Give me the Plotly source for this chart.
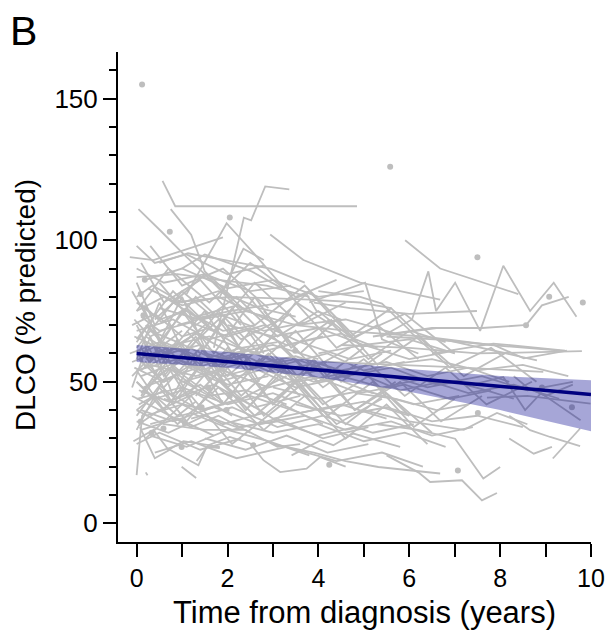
import plotly.graph_objects as go

# ---- individual patient trajectories (years from diagnosis, DLCO % predicted) ----
visit_years = [
    [0.57, 0.85, 4.85],
    [1.7, 2.13, 2.36, 2.52, 2.83, 3.36],
    [0.04, 0.55, 1.1, 1.7, 2.4],
    [0.75, 1.2, 1.5, 2.1],
    [-0.15, 0.37, 1.9],
    [1.1, 1.98, 2.6, 3.52, 4.3],
    [2.94, 3.67, 4.92, 6.68],
    [5.91, 6.68, 8.4],
    [5.4, 6.06, 6.42, 6.59, 7.01, 7.56, 8.07, 8.66, 9.18, 9.68],
    [8.57, 8.92, 9.51],
    [4.0, 4.92, 5.4, 6.02, 6.8],
    [3.8, 5.03, 5.4, 6.2],
    [5.2, 6.5, 7.6, 8.52],
    [3.5, 4.85, 6.3, 7.8, 9.32],
    [3.9, 4.7, 6.0, 7.49],
    [5.5, 6.83, 8.81],
    [6.5, 7.85, 9.43],
    [4.2, 5.8, 7.2, 8.95],
    [7.71, 8.6, 9.99],
    [7.4, 8.07, 8.55, 8.9, 9.77],
    [8.3, 8.6, 9.0, 9.6],
    [6.68, 7.86, 8.52, 9.47],
    [4.5, 6.0, 7.5, 9.1, 9.8],
    [5.5, 6.2, 6.46, 7.16, 7.6, 7.93],
    [5.3, 6.2, 7.01, 7.63, 8.0],
    [8.2, 8.74, 9.14],
    [9.16, 9.76],
    [8.2, 8.66, 9.1, 9.76],
    [5.0, 6.0, 7.2, 7.93, 8.6],
    [4.8, 5.7, 6.6, 7.3],
    [5.6, 6.4, 7.0, 7.7, 8.3],
    [1.32, 1.58, 2.05, 2.5, 2.79, 3.16, 3.74, 4.04, 4.6],
    [3.0, 3.9, 4.6, 5.32, 6.68],
    [0.0, 0.03, 0.08, 0.12, 0.5],
    [0.99, 1.31],
    [0.2, 0.24],
    [0.07, 0.4, 0.73, 1.36, 1.54, 1.83],
    [-0.07, 0.37, 0.7, 1.03, 1.83],
    [0.0, 0.6, 1.5, 2.4, 3.1, 3.6],
    [3.41, 4.04, 4.33, 4.77, 5.14, 5.8],
    [0.0, 0.9, 1.8, 2.86, 3.8],
    [0.5, 1.13, 2.94, 3.7],
    [1.0, 1.5, 2.53, 3.2],
    [1.83, 2.35, 2.8],
    [0.8, 2.05, 3.82, 4.92, 5.6],
    [1.2, 2.05, 3.2, 3.74, 3.96, 4.5],
    [0.0, 0.5, 1.1, 1.9, 2.6],
    [-0.1, 0.4, 1.0, 1.6, 2.3, 3.1],
    [0.1, 0.7, 1.4, 2.2],
    [0.0, 0.3, 0.9, 1.7, 2.5, 3.4, 4.2],
    [0.2, 0.8, 1.5],
    [-0.05, 0.6, 1.2, 2.0, 2.9],
    [0.1, 0.9, 1.8, 2.7, 3.5, 4.4, 5.2],
    [0.0, 0.4, 1.0],
    [0.15, 0.8, 1.6, 2.4, 3.3],
    [-0.1, 0.5, 1.3, 2.1],
    [0.05, 0.6, 1.4, 2.3, 3.0, 3.9],
    [0.2, 1.0, 1.9, 2.8],
    [0.0, 0.7, 1.5, 2.2, 3.1, 4.0, 4.8],
    [0.1, 0.9, 1.7],
    [0.3, 1.1, 2.0, 2.9, 3.8],
    [0.0, 0.6, 1.3, 2.2, 3.0],
    [0.1, 0.5, 1.2, 2.0, 2.8, 3.6, 4.5, 5.3],
    [0.0, 0.8, 1.6, 2.5, 3.3, 4.1],
    [0.25, 1.0, 1.8, 2.6],
    [0.0, 0.35, 1.0, 1.8, 2.7, 3.5],
    [0.1, 0.6, 1.5, 2.3, 3.2, 4.2, 5.0, 5.9],
    [-0.1, 0.5, 1.4, 2.4, 3.4, 4.3],
    [0.0, 0.9, 1.9, 2.9, 3.9, 4.9, 5.8, 6.7],
    [0.2, 0.7, 1.3, 2.1, 3.0, 4.0],
    [0.05, 0.7, 1.7, 2.6, 3.6],
    [0.0, 1.0, 2.0, 3.0, 4.0, 5.0, 6.0],
    [0.1, 0.8, 1.7, 2.7, 3.7, 4.6, 5.6, 6.5, 7.4],
    [0.3, 1.2, 2.1, 3.1, 4.1, 5.1],
    [0.0, 0.5, 1.4, 2.3],
    [0.4, 1.2, 2.2, 3.3, 4.4, 5.4, 6.3],
    [0.0, 0.6, 1.5, 2.5, 3.4],
    [0.2, 1.0, 2.0, 3.0, 4.0, 5.0],
    [0.0, 0.4, 1.1, 2.0, 2.8],
    [0.5, 1.4, 2.4, 3.5, 4.6, 5.7, 6.6],
    [0.8, 1.6, 2.6, 3.6, 4.7, 5.6],
    [1.0, 1.9, 2.9, 3.9, 4.9, 5.9, 6.9, 7.8],
    [0.6, 1.5, 2.5, 3.6, 4.5, 5.5],
    [1.2, 2.1, 3.1, 4.1, 5.2, 6.1],
    [0.9, 1.8, 2.8, 3.7],
    [1.5, 2.5, 3.5, 4.5, 5.5, 6.4, 7.3, 8.2],
    [2.0, 3.0, 4.0, 5.0, 6.0, 7.0],
    [2.5, 3.5, 4.6, 5.6, 6.6, 7.6, 8.6, 9.6],
    [3.0, 4.0, 5.0, 6.1, 7.1],
    [3.5, 4.5, 5.5, 6.5, 7.5, 8.5],
    [4.0, 5.0, 6.0, 7.0],
    [4.5, 5.4, 6.3, 7.3, 8.3, 9.3],
    [1.5, 2.4, 3.3, 4.2, 5.1],
    [2.0, 3.0, 4.0, 5.0, 5.9, 6.8],
    [0.3, 1.3, 2.4, 3.5, 4.6],
    [-0.15, 0.5, 1.5, 2.6],
    [0.1, 0.3, 0.9, 1.5],
    [5.5, 6.5, 7.5, 8.5, 9.5],
    [-0.05, 0.3, 0.8],
    [0.0, 0.25, 0.7, 1.2],
    [0.05, 0.45, 0.95],
    [-0.1, 0.2, 0.6, 1.1],
    [0.1, 0.35, 0.85, 1.4, 1.9],
    [0.0, 0.4, 0.9, 1.3],
    [-0.05, 0.5, 1.0],
    [0.15, 0.55, 1.1, 1.6],
    [0.0, 0.2, 0.65],
    [0.05, 0.5, 1.2, 1.8, 2.5],
    [0.3, 0.7, 1.3],
    [0.1, 0.5, 1.0, 1.7, 2.2],
    [0.0, 0.6, 1.3, 2.0, 2.9, 3.8],
    [0.1, 0.9, 1.6, 2.5, 3.3],
    [-0.1, 0.7, 1.5, 2.2, 3.0, 3.9, 4.7],
    [0.2, 1.0, 1.7, 2.6, 3.4, 4.3],
    [0.0, 0.8, 1.9, 2.7, 3.6],
    [0.3, 1.1, 2.0, 3.0, 3.9, 4.8, 5.7],
    [0.1, 0.6, 1.4, 2.3],
    [0.5, 1.3, 2.2, 3.1, 4.0, 5.0],
    [0.0, 0.9, 1.8, 2.8, 3.7, 4.6, 5.5, 6.4],
    [0.2, 1.2, 2.1, 3.2, 4.1],
    [1.0, 1.8, 2.7, 3.5, 4.4, 5.3, 6.2],
    [0.4, 1.5, 2.6, 3.7, 4.8, 5.9, 7.0],
    [0.0, 0.5, 1.2, 1.9, 2.7],
    [0.1, 0.8, 1.5, 2.4, 3.2, 4.1],
    [1.3, 2.2, 3.0, 3.9, 4.8, 5.8, 6.7, 7.6],
    [2.2, 3.0, 3.8, 4.7, 5.6, 6.5],
    [2.8, 3.6, 4.4, 5.3, 6.2, 7.2, 8.1],
    [0.0, 0.7, 1.6, 2.5, 3.5, 4.4],
    [0.6, 1.4, 2.3, 3.2, 4.1, 5.1, 6.0],
    [0.0, 0.4, 1.0, 1.6],
    [-0.1, 0.3, 0.8, 1.3, 1.9],
    [0.0, 0.5, 1.1, 1.8],
    [0.2, 0.9, 1.8, 2.6, 3.5, 4.5, 5.4],
    [3.2, 4.1, 5.0, 5.9, 6.8, 7.7, 8.7],
    [1.7, 2.6, 3.5, 4.4, 5.4],
    [0.3, 1.0, 1.9, 2.9],
    [0.0, 0.8, 1.7, 2.6, 3.6, 4.6],
    [0.1, 0.7, 1.3, 2.0, 2.8, 3.7, 4.6, 5.5, 6.5],
    [1.1, 2.0, 3.0, 4.0, 5.0],
    [4.2, 5.1, 6.0, 6.9, 7.8, 8.8],
    [0.0, 0.6, 1.4, 2.3, 3.3],
    [0.4, 1.3, 2.3, 3.4],
    [2.4, 3.3, 4.2, 5.2, 6.1, 7.0],
    [0.1, 0.5, 1.0, 1.5, 2.1, 2.8],
]

dlco_pct = [
    [121, 112, 112],
    [62, 92, 108, 107, 119, 118],
    [111, 103, 94, 85, 75],
    [111, 102, 89, 80],
    [94, 93, 101],
    [81, 106, 95, 78, 70],
    [102, 93, 85, 79],
    [100, 90, 81],
    [66, 72, 89, 75, 85, 68, 91, 75, 85, 73],
    [70, 77, 80],
    [82, 80, 77.6, 68, 64],
    [78, 85, 65, 60],
    [66, 69, 69, 70],
    [70, 67.6, 66, 63, 61],
    [78, 76, 74, 75],
    [66, 64.7, 57.6],
    [60, 63.5, 61],
    [57, 56, 55, 53.5],
    [44.4, 45, 42.3],
    [49, 51.7, 40, 46, 36.4],
    [52, 48, 45, 49],
    [64.7, 63, 58.3, 61],
    [63, 62, 60, 60.5, 60.8],
    [24, 18, 14.6, 15.2, 8.1, 10.7],
    [35, 33, 29.9, 15.8, 19.9],
    [30, 24.6, 27],
    [22.9, 33.5],
    [38, 32.9, 30.5, 27.3],
    [40, 36, 33, 39, 35],
    [46, 44, 40, 42],
    [52, 48, 50, 47, 44],
    [22, 27.6, 30.5, 28.2, 22.3, 18.1, 19.3, 23.4, 20],
    [28, 25, 22, 19.9, 17.6],
    [17, 22, 29, 38, 45],
    [20, 16],
    [18, 17],
    [34, 23, 26, 20.5, 27, 26.6],
    [29, 33, 26, 29, 27],
    [40, 35, 33, 33, 27, 28],
    [24, 29.3, 27.6, 31.7, 30, 27],
    [87, 88, 86, 84, 80],
    [92, 95.4, 90, 85],
    [90, 95, 89, 83],
    [80, 97, 93],
    [78, 80, 79, 78, 76],
    [72, 75, 78, 81, 75, 72],
    [78, 72, 75, 68, 70],
    [70, 74, 66, 69, 62, 64],
    [65, 60, 63, 57],
    [62, 68, 64, 58, 61, 55, 57],
    [58, 63, 55],
    [55, 50, 56, 49, 52],
    [52, 57, 50, 54, 48, 51, 46],
    [50, 44, 47],
    [48, 52, 45, 47, 42],
    [45, 40, 46, 38],
    [42, 47, 40, 44, 37, 40],
    [38, 42, 35, 39],
    [36, 32, 38, 34, 36, 31, 34],
    [33, 37, 31],
    [31, 27, 33, 29, 24],
    [75, 80, 73, 77, 71],
    [73, 68, 71, 66, 70, 64, 67, 62],
    [68, 72, 65, 69, 63, 66],
    [83, 77, 80, 74],
    [80, 84, 78, 82, 76, 73],
    [60, 64, 58, 62, 56, 60, 54, 57],
    [57, 61, 54, 59, 52, 55],
    [54, 58, 52, 56, 50, 53, 47, 50],
    [66, 61, 67, 60, 63, 58],
    [47, 43, 49, 41, 45],
    [44, 48, 42, 46, 40, 43, 38],
    [40, 36, 41, 35, 38, 33, 36, 31, 34],
    [35, 39, 33, 37, 30, 34],
    [28, 32, 26, 30],
    [25, 29, 23, 27, 22, 25, 20],
    [90, 85, 88, 82, 84],
    [86, 90, 83, 86, 80, 82],
    [98, 92, 95, 88, 91],
    [76, 72, 75, 70, 72, 67, 69],
    [63, 66, 60, 64, 58, 61],
    [50, 54, 48, 52, 46, 49, 44, 47],
    [44, 40, 45, 39, 42, 37],
    [37, 41, 34, 38, 32, 35],
    [70, 74, 68, 71],
    [60, 56, 59, 54, 57, 52, 55, 50],
    [70, 66, 69, 63, 65, 60],
    [55, 58, 52, 55, 49, 52, 47, 50],
    [48, 44, 47, 42, 45],
    [42, 38, 41, 36, 38, 34],
    [60, 63, 58, 61],
    [52, 48, 51, 46, 49, 44],
    [30, 26, 31, 25, 28],
    [36, 32, 35, 29, 32, 27],
    [56, 52, 57, 50, 53],
    [60, 64, 57, 60],
    [67, 58, 62, 70],
    [56, 58, 54, 56, 52],
    [72, 66, 70],
    [64, 70, 61, 66],
    [58, 52, 57],
    [52, 57, 50, 54],
    [46, 51, 44, 49, 43],
    [40, 45, 38, 43],
    [66, 62, 68],
    [77, 71, 76, 69],
    [61, 55, 59],
    [35, 40, 34, 38, 32],
    [49, 55, 48],
    [54, 60, 53, 57, 51],
    [70, 52, 66, 48, 60, 45],
    [45, 65, 50, 68, 55],
    [82, 60, 75, 58, 70, 55, 62],
    [55, 75, 60, 80, 62, 72],
    [38, 55, 42, 58, 45],
    [65, 45, 62, 42, 58, 40, 50],
    [92, 78, 86, 70],
    [85, 70, 80, 66, 75, 62],
    [50, 35, 48, 33, 45, 30, 42, 28],
    [30, 45, 28, 42, 35],
    [58, 75, 60, 78, 62, 70, 58],
    [72, 88, 70, 84, 66, 74, 60],
    [58, 78, 55, 72, 50],
    [62, 42, 58, 40, 55, 38],
    [45, 60, 42, 56, 40, 50, 36, 45],
    [85, 70, 82, 66, 76, 62],
    [75, 60, 72, 56, 66, 52, 60],
    [75, 90, 78, 92, 80, 86],
    [48, 62, 45, 58, 42, 52, 38],
    [85, 70, 82, 74],
    [48, 66, 45, 60, 42],
    [33, 48, 36, 50],
    [70, 58, 72, 55, 68, 50, 60],
    [62, 48, 58, 45, 55, 42, 50],
    [52, 38, 50, 35, 44],
    [98, 84, 90, 76],
    [65, 82, 68, 85, 70, 78],
    [44, 58, 40, 55, 38, 50, 35, 46, 32],
    [68, 52, 66, 50, 62],
    [72, 58, 68, 55, 62, 50],
    [54, 40, 56, 44, 52],
    [62, 80, 65, 74],
    [40, 55, 38, 50, 34, 44],
    [78, 64, 80, 62, 76, 60],
]

# patients with a single measurement (drawn as points)
single_years = [0.12, 5.58, 7.5, 2.05, 0.73, 9.08, 9.82, 8.57, 0.18, 0.09, 7.51, 8.92, 9.58,
                4.24, 7.07, 0.09, 0.33, 0.59, 0.99, 1.06, 1.43, 1.58, 2.05, 2.57, 0.15, 3.49, 1.98]
single_dlco = [155, 126, 94, 108, 103, 80, 78, 70, 86, 81, 39, 48, 41,
               20.7, 18.7, 36, 32, 33.5, 27, 35.4, 41, 48, 45, 27.6, 73.5, 61, 40]

# ---- population-level fit with confidence band ----
fit_years = [0, 2, 4, 6, 8, 10]
fit_dlco = [60, 57.1, 54.2, 51.3, 48.4, 45.5]
ci_lower = [57, 55, 51.5, 46.5, 40, 32.5]
ci_upper = [63, 60.5, 57.5, 54.5, 52, 50.5]

# ---- axis ticks ----
x_tick_vals = [0, 1, 2, 3, 4, 5, 6, 7, 8, 9, 10]
x_tick_text = ["0", "", "2", "", "4", "", "6", "", "8", "", "10"]
y_tick_vals = [0, 50, 100, 150]

GREY = "#bebebe"
FONT = "Liberation Sans, Arial, sans-serif"

line_x, line_y = [], []
for ts, ys in zip(visit_years, dlco_pct):
    line_x.extend(ts + [None])
    line_y.extend(ys + [None])

fig = go.Figure()
fig.add_trace(go.Scatter(x=line_x, y=line_y, mode="lines",
                         line=dict(color=GREY, width=1.8), hoverinfo="skip",
                         showlegend=False, connectgaps=False))
fig.add_trace(go.Scatter(x=single_years, y=single_dlco, mode="markers",
                         marker=dict(color=GREY, size=6), showlegend=False))
fig.add_trace(go.Scatter(x=fit_years + fit_years[::-1], y=ci_upper + ci_lower[::-1],
                         fill="toself", fillcolor="rgba(0,0,139,0.35)",
                         line=dict(width=0), mode="lines", showlegend=False))
fig.add_trace(go.Scatter(x=fit_years, y=fit_dlco, mode="lines",
                         line=dict(color="#00007f", width=3.6), showlegend=False))

fig.update_layout(
    width=608, height=632, autosize=False,
    margin=dict(l=118, r=17, t=52, b=90),
    plot_bgcolor="white", paper_bgcolor="white",
    font=dict(family=FONT, color="black"),
    xaxis=dict(range=[-0.41, 10.0], tickvals=x_tick_vals, ticktext=x_tick_text,
               ticks="outside", ticklen=13, tickwidth=2, tickcolor="black",
               showline=True, linecolor="black", linewidth=2, automargin=False,
               showgrid=False, zeroline=False, tickfont=dict(size=25)),
    yaxis=dict(range=[-6.6, 166.5], tickvals=y_tick_vals,
               ticks="outside", ticklen=13, tickwidth=2, tickcolor="black",
               showline=True, linecolor="black", linewidth=2, automargin=False,
               showgrid=False, zeroline=False, tickfont=dict(size=26),
               minor=dict(dtick=10, tick0=0, ticks="outside", ticklen=7,
                          tickwidth=2, tickcolor="black", showgrid=False)),
    annotations=[
        dict(text="Time from diagnosis (years)", xref="paper", yref="paper",
             x=(364 - 118) / 473, y=-(612 - 542) / 490, xanchor="center", yanchor="middle",
             showarrow=False, font=dict(size=31, family=FONT)),
        dict(text="DLCO (% predicted)", xref="paper", yref="paper",
             x=-(118 - 25) / 473, y=(542 - 305) / 490, xanchor="center", yanchor="middle",
             textangle=-90, showarrow=False, font=dict(size=28, family=FONT)),
        dict(text="B", xref="paper", yref="paper",
             x=-(118 - 8) / 473, y=(542 - 31) / 490, xanchor="left", yanchor="middle",
             showarrow=False, font=dict(size=41, family=FONT)),
    ],
)

fig.write_html("out.html", config={"displayModeBar": False},
               post_script="document.body.style.margin='0';")
